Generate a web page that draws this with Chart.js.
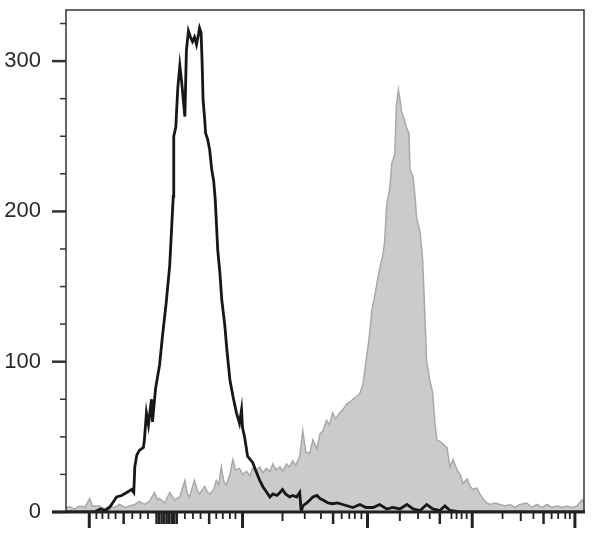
<!DOCTYPE html>
<html>
<head>
<meta charset="utf-8">
<script src="https://cdn.jsdelivr.net/npm/chart.js@4.4.1/dist/chart.umd.min.js"></script>
<style>
  html, body { margin: 0; padding: 0; background: #fff; }
  #wrap { width: 608px; height: 545px; }
</style>
</head>
<body>
<div id="wrap"><canvas id="chart" width="608" height="545"></canvas></div>
<script>
// channel positions (0-1024) and event counts
var blackChannels = [0,27,56,68,78,86,96,100,110,120,130,134,136,140,145,153,155,159,163,169,171,177,179,185,191,198,205,209,212,213,217,221,225,229,233,235,238,242,246,250,254,258,262,264,267,269,271,274,276,280,284,288,292,295,300,304,308,314,318,324,330,337,343,347,349,353,359,369,377,383,389,397,403,409,417,423,428,434,442,448,456,462,465,468,476,482,488,496,502,508,518,527,537,547,557,567,581,593,607,620,634,646,660,674,686,700,713,725,739,749,759,779,799,858,937,1024];
var blackCounts = [0,0,0,2,1,3,8,10,11,13,15,13,30,38,41,43,48,66,58,75,60,82,86,98,118,139,164,190,210,250,256,282,297,285,270,263,307,320,316,313,316,311,318,322,319,300,274,262,252,248,241,228,220,208,174,160,141,124,108,88,77,66,59,68,56,50,37,33,26,21,17,13,10,12,11,13,15,12,10,11,10,13,0,4,6,8,10,11,9,8,6,5.5,6,5,4,3,5,3,3,5,2,3,2,5,2,1,5,2,1,4,1,0,0,0,0,0];

var grayChannels = [0,7,17,27,37,47,52,66,76,86,96,106,116,126,136,145,155,165,175,181,185,195,205,215,225,235,240,244,254,260,264,274,280,284,292,297,302,307,312,317,324,330,335,343,349,357,363,369,375,383,389,396,403,409,415,423,428,436,442,448,454,462,468,474,482,488,496,502,508,515,521,527,533,541,547,555,561,567,575,581,587,593,599,605,611,616,622,626,630,634,636,640,644,646,650,653,657,660,663,668,673,678,680,686,690,693,700,705,709,713,719,725,729,733,739,743,749,753,759,765,773,779,785,793,799,804,812,818,824,832,838,848,858,868,878,888,897,911,921,931,941,951,961,971,981,990,1000,1010,1020,1024];
var grayCounts = [3,3.5,2,4,3,9,4,4,2,4,3,5,3,4,5,7,5,7,13,8,9,6,13,8,10,21,12,10,21,14,12,17,13,12,15,21,18,30,20,18,25,35,28,29,25,27,24,29,27,30,26,29,27,32,28,30,27,32,30,34,31,37,54,40,39,48,42,52,54,61,58,66,62,66,68,72,73,75,77,79,85,100,115,135,145,155,165,170,180,205,208,215,232,234,238,270,281,275,267,262,256,252,228,223,210,196,186,168,135,100,88,79,60,48,47,46,44,43,30,35,28,25,19,22,17,15,16,12,9,6,5,6,5,4,5,3,5,6,3,5,3,5,3,4,3,4,3,4,8,6];

// axis ticks
var yLabelTicks = [0, 100, 200, 300];
var yMinorTicks = [25, 50, 75, 125, 150, 175, 225, 250, 275, 325];
var xMajorTicks = [46, 349, 596, 803, 1006];
var xMediumTicks = [114, 283, 528, 739, 944, 179, 184, 189, 194, 199, 204, 209, 214, 219];
var xShortTicks = [428, 660, 899];
var xMinorTicks = [60, 72, 84, 98, 131, 147, 162, 235, 251, 266, 297, 310, 324, 335, 472, 504, 545, 560, 571, 584, 696, 719, 762, 772, 782, 792, 863, 924, 960, 973, 987, 996];

function toPoints(xs, ys) {
  return xs.map(function (x, i) { return { x: x, y: ys[i] }; });
}

var frame = {
  id: 'frame',
  afterDraw: function (chart) {
    var c = chart.ctx, a = chart.chartArea;
    var xs = chart.scales.x, ys = chart.scales.y;
    c.save();
    c.strokeStyle = '#333';
    c.lineWidth = 1.5;
    c.strokeRect(a.left, a.top, a.right - a.left, a.bottom - a.top);
    // y ticks
    c.lineWidth = 2.5;
    yLabelTicks.forEach(function (v) {
      var y = ys.getPixelForValue(v);
      c.beginPath(); c.moveTo(a.left - 14, y); c.lineTo(a.left, y); c.stroke();
    });
    c.lineWidth = 1.5;
    yMinorTicks.forEach(function (v) {
      var y = ys.getPixelForValue(v);
      c.beginPath(); c.moveTo(a.left - 6, y); c.lineTo(a.left, y); c.stroke();
    });
    // x ticks
    function xt(list, len, w) {
      c.lineWidth = w;
      list.forEach(function (v) {
        var x = xs.getPixelForValue(v);
        c.beginPath(); c.moveTo(x, a.bottom); c.lineTo(x, a.bottom + len); c.stroke();
      });
    }
    c.strokeStyle = '#222';
    xt(xMajorTicks, 16, 3);
    xt(xMediumTicks, 12, 2.5);
    xt(xShortTicks, 9, 2);
    xt(xMinorTicks, 7, 1.8);
    // thick baseline
    c.lineWidth = 3;
    c.beginPath(); c.moveTo(a.left - 14, a.bottom); c.lineTo(a.right + 1, a.bottom); c.stroke();
    c.restore();
  }
};

var ctx = document.getElementById('chart').getContext('2d');
var myChart = new Chart(ctx, {
  type: 'line',
  data: {
    datasets: [{
        label: 'Isotype',
        data: toPoints(blackChannels, blackCounts),
        borderColor: '#171717',
        borderWidth: 2.8,
        pointRadius: 0,
        fill: false,
        order: 0
      },
      {
        label: 'Stained',
        data: toPoints(grayChannels, grayCounts),
        borderColor: '#a9a9a9',
        backgroundColor: '#cbcbcb',
        borderWidth: 1.5,
        pointRadius: 0,
        fill: 'origin',
        order: 1
      }
    ]
  },
  options: {
    responsive: false,
    animation: false,
    layout: { padding: { left: 0, top: 10, right: 24, bottom: 33 } },
    plugins: {
      legend: { display: false },
      tooltip: { enabled: false }
    },
    scales: {
      x: {
        type: 'linear',
        display: false,
        min: 0,
        max: 1024
      },
      y: {
        min: 0,
        max: 334,
        afterFit: function (s) { s.width = 66; s.paddingTop = 0; s.paddingBottom = 0; },
        grid: { display: true, drawOnChartArea: false, color: 'transparent', tickLength: 14 },
        border: { display: false },
        ticks: {
          stepSize: 100,
          includeBounds: false,
          padding: 11,
          color: '#2a2a2a',
          font: { family: 'Liberation Sans, Arial, sans-serif', size: 22 }
        }
      }
    }
  },
  plugins: [frame]
});
</script>
</body>
</html>
